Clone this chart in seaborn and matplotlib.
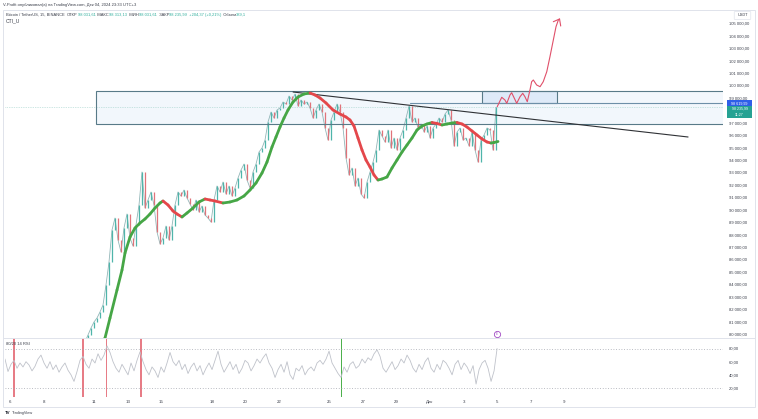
import numpy as np
import pandas as pd
import matplotlib
matplotlib.use("Agg")
import matplotlib.pyplot as plt
import matplotlib.transforms as mtransforms
from matplotlib.collections import LineCollection
from matplotlib.patches import Rectangle, FancyBboxPatch
from matplotlib.lines import Line2D
import seaborn as sns

sns.set_theme(style="white")
plt.rcParams['font.family'] = ['Liberation Sans', 'DejaVu Sans']

# ---------------- data (time in days since 6 Nov 2024 00:00, UTC+3) ----------------
price_t0 = 4.464
price_dt = 0.1786
price_close = [
    79356, 79920, 80483, 80965, 81287, 81770, 82333, 83942, 85792, 88367,
    89332, 87562, 86597, 88528, 89654, 87723, 87080, 88769, 90378, 93033,
    90137, 90780, 91424, 90378, 88206, 87241, 87723, 88689, 87562, 88689,
    90378, 91424, 91102, 91585, 90941, 90459, 89976, 90780, 89815, 90298,
    89574, 89332, 89010, 90780, 91907, 91424, 92228, 91263, 91907, 91102,
    91746, 92550, 93194, 93677, 92389, 91746, 93033, 93677, 94642, 94964,
    95607, 97055, 97860, 97377, 98021, 98182, 98664, 98504, 99147, 98825,
    99308, 98343, 98825, 98504, 98664, 98182, 97377, 98021, 98504, 97860,
    96573, 95607, 97216, 97860, 98504, 97860, 96573, 94159, 92792, 93355,
    91907, 92550, 91263, 90941, 92228, 93033, 93837, 94803, 96412, 95929,
    95446, 96412, 94964, 95768, 94803, 95768, 96412, 97377, 98343, 97055,
    97377, 96573, 96895, 96251, 96734, 95768, 96573, 96895, 97377, 97055,
    97699, 98021, 97216, 95125, 96251, 96573, 95607, 95768, 95125, 96251,
    94803, 93837, 95607, 96010, 96573, 96412, 94803, 98236,
]

cti_day = [
    5.357, 5.655, 5.952, 6.369, 6.667, 6.845, 7.143, 7.440, 7.738, 8.036,
    8.333, 8.631, 8.929, 9.107, 9.405, 9.702, 9.940, 10.238, 10.536, 10.893,
    11.250, 11.607, 11.905, 12.202, 12.679, 13.095, 13.512, 13.929, 14.286, 14.643,
    15.0, 15.298, 15.595, 15.833, 16.071, 16.310, 16.548, 16.845, 17.143, 17.5,
    17.857, 18.155, 18.452, 18.810, 19.226, 19.643, 20.0, 20.238, 20.476, 20.714,
    20.952, 21.190, 21.429, 21.667, 21.905, 22.143, 22.440, 22.738, 23.036, 23.333,
    23.631, 23.929, 24.226, 24.524, 24.821, 25.119, 25.417, 25.714, 26.012, 26.310,
    26.607, 26.905, 27.202, 27.5, 27.798, 28.095, 28.393, 28.631, 28.810, 29.048,
]
cti_value = [
    78552, 79678, 81287, 83540, 85149, 86516, 87804, 88528, 88930, 89252,
    89654, 90137, 90539, 90700, 90378, 89895, 89654, 89413, 89734, 90137,
    90619, 90861, 90780, 90700, 90539, 90619, 90780, 91102, 91585, 92148,
    92952, 93837, 95044, 95849, 96653, 97377, 98021, 98664, 99067, 99308,
    99388, 99228, 98986, 98584, 98021, 97699, 97458, 97216, 96734, 95768,
    94803, 93998, 93435, 92792, 92389, 92470, 92631, 93355, 93998, 94642,
    95205, 95768, 96412, 96734, 96895, 97015, 96935, 96815, 96895, 96975,
    97015, 96895, 96653, 96331, 96010, 95688, 95446, 95366, 95407, 95487,
]

rsi_t0 = -0.298
rsi_dt = 0.1786
rsi_value = [
    64, 45, 56, 62, 50, 58, 52, 60, 55, 46,
    53, 64, 70, 58, 50, 60, 48, 55, 44, 52,
    58, 47, 40, 30, 45, 62, 68, 56, 50, 64,
    58, 72, 62, 70, 84, 74, 60, 50, 44, 56,
    48, 40, 58, 46, 62, 75, 60, 48, 40, 52,
    46, 36, 52, 44, 58, 74, 60, 54, 62, 48,
    56, 42, 52, 58, 46, 54, 40, 50, 58, 48,
    62, 76, 56, 44, 52, 60, 48, 56, 42, 50,
    62, 58, 46, 54, 64, 58, 66, 72, 58, 50,
    36, 48, 56, 44, 60, 40, 33, 50, 46, 54,
    40, 48, 52, 46, 58, 62, 56, 64, 76, 58,
    50, 42, 36, 52, 44, 56, 60, 50, 54, 64,
    58, 66, 62, 72, 78, 68, 50, 44, 52, 60,
    48, 54, 64, 58, 70, 62, 50, 44, 56, 48,
    60, 66, 50, 44, 56, 48, 62, 58, 50, 40,
    56, 62, 48, 58, 52, 42, 54, 26, 48, 58,
    62, 50, 30, 46, 80,
]
rsi_red_days = [-0.30, 0.24, 4.35, 5.77, 7.80]
rsi_red_width = [0.06, 0.17, 0.08, 0.06, 0.15]
rsi_green_days = [19.76]

# drawings
zone_big = dict(d0=5.12, d1=44.0, lo=96895, hi=99549)
zone_small = dict(d0=28.10, d1=32.56, lo=98620, hi=99549)
ray_level = dict(d0=23.81, price=98620)
trend_days = [16.85, 40.36]
trend_price = [99469, 95849]
arrow_days = [29.0, 29.27, 29.46, 29.57, 29.76, 29.86, 30.02, 30.16, 30.36, 30.52,
              30.65, 30.79, 30.95, 31.05, 31.15, 31.35, 31.55, 31.74, 31.95, 32.14,
              32.34, 32.5, 32.64, 32.71]
arrow_price = [98286, 99043, 98825, 98560, 99228, 99412, 98962, 98560, 99091, 99364,
               99091, 98689, 99630, 100298, 100434, 100032, 99896, 100298, 101103, 102309,
               103652, 104723, 105262, 105342]
arrow_head_days = [32.34, 32.71, 32.78]
arrow_head_price = [105124, 105342, 104779]

last_price = 98235.99
level_price = 98619.99
price_ticks = list(range(80000, 105001, 1000))
hidden_ticks = [98000]          # covered by the last-price label in the reference
rsi_ticks = [80, 60, 40, 20]
date_tick_days = [0, 2, 5, 7, 9, 12, 14, 16, 19, 21, 23, 25, 27, 29, 31, 33]
date_tick_labels = ["6", "8", "11", "13", "15", "18", "20", "22", "25", "27", "29",
                    "Дек", "3", "5", "7", "9"]

# ---------------- figure ----------------
W, H = 758, 419
fig = plt.figure(figsize=(W / 100, H / 100), dpi=100)
fig.patch.set_facecolor("white")

def fx(px):
    return px / W

def fy(py):
    return 1 - py / H

ax = fig.add_axes([fx(5), fy(338), fx(718), 328 / H])
axr = fig.add_axes([fx(5), fy(397), fx(718), 59 / H], sharex=ax)

UP = "#4fb5aa"
DOWN = "#e0737a"
CTI_UP = "#46a646"
CTI_DN = "#e4474b"
TXT = "#3a3e4a"

def fmt_price(v):
    return f"{v:,.2f}".replace(",", " ").replace(".", ",")

# candles
closes = np.array(price_close, dtype=float)
opens = np.r_[closes[0], closes[:-1]]
times = price_t0 + price_dt * np.arange(len(closes))
df_price = pd.DataFrame({"t": times, "close": closes})
sns.lineplot(data=df_price, x="t", y="close", ax=ax, color="#86aeb0", lw=0.6,
             alpha=0.9, zorder=2)
cols = np.where(closes >= opens, UP, DOWN)
ax.vlines(times, np.minimum(opens, closes), np.maximum(opens, closes),
          colors=cols, lw=0.9, zorder=3)

# CTI line coloured by slope
cd = np.array(cti_day)
cv = np.array(cti_value, dtype=float)
pts = np.column_stack([cd, cv]).reshape(-1, 1, 2)
segs = np.concatenate([pts[:-1], pts[1:]], axis=1)
seg_cols = [CTI_UP if cv[i + 1] >= cv[i] else CTI_DN for i in range(len(cv) - 1)]
ax.add_collection(LineCollection(segs, colors=seg_cols, linewidths=2.0,
                                 capstyle="round", joinstyle="round", zorder=5))

# zones
for z, a in ((zone_big, 0.06), (zone_small, 0.10)):
    ax.add_patch(Rectangle((z["d0"], z["lo"]), z["d1"] - z["d0"], z["hi"] - z["lo"],
                           facecolor="#2e7fd6", alpha=a, edgecolor="none", zorder=1))
    ax.add_patch(Rectangle((z["d0"], z["lo"]), z["d1"] - z["d0"], z["hi"] - z["lo"],
                           facecolor="none", edgecolor="#587a88", lw=0.8, zorder=4))
ax.plot([ray_level["d0"], 44], [ray_level["price"]] * 2, color="#6d8fa8", lw=0.8, zorder=4)
ax.axhline(last_price, color="#9ccfc8", lw=0.5, ls=(0, (1, 1.5)), zorder=1)

# trend line
ax.plot(trend_days, trend_price, color="#2f3135", lw=0.8, zorder=4)

# hand-drawn arrow
ax.plot(arrow_days, arrow_price, color="#e0506a", lw=0.8, zorder=6,
        solid_capstyle="round", solid_joinstyle="round")
ax.plot(arrow_head_days, arrow_head_price, color="#e0506a", lw=0.8, zorder=6)

ax.set_xlim(-0.298, 42.44)
ax.set_ylim(79678, 106066)
ax.set_yticks(price_ticks)
ax.set_yticklabels(["" if v in hidden_ticks else fmt_price(v) for v in price_ticks])
ax.yaxis.tick_right()
ax.tick_params(axis="y", length=0, pad=4, labelsize=3.0, labelcolor=TXT)
ax.tick_params(axis="x", bottom=False, labelbottom=False)
ax.set_xlabel("")
ax.set_ylabel("")
for s in ax.spines.values():
    s.set_visible(False)

# ---------------- RSI pane ----------------
rsi_t = rsi_t0 + rsi_dt * np.arange(len(rsi_value))
for d, w in zip(rsi_red_days, rsi_red_width):
    axr.axvspan(d - w / 2, d + w / 2, color="#e0505e", alpha=0.75, lw=0, zorder=1)
for d in rsi_green_days:
    axr.axvspan(d - 0.03, d + 0.03, color="#3aa83a", alpha=0.9, lw=0, zorder=1)
df_rsi = pd.DataFrame({"t": rsi_t, "rsi": rsi_value})
sns.lineplot(data=df_rsi, x="t", y="rsi", ax=axr, color="#bfc2ca", lw=0.6, zorder=3)
for lvl in (80, 20):
    axr.axhline(lvl, color="#a3a6af", lw=0.6, ls=(0, (1, 2.2)), zorder=2)
axr.set_ylim(6.3, 96)
axr.set_yticks(rsi_ticks)
axr.set_yticklabels([f"{v:.2f}".replace(".", ",") for v in rsi_ticks])
axr.yaxis.tick_right()
axr.tick_params(axis="y", length=0, pad=4, labelsize=3.0, labelcolor=TXT)
axr.set_xticks(date_tick_days)
axr.set_xticklabels(date_tick_labels)
axr.tick_params(axis="x", length=0, pad=2.2, labelsize=3.2, labelcolor=TXT)
axr.set_xlabel("")
axr.set_ylabel("")
for s in axr.spines.values():
    s.set_visible(False)
axr.text(0.0015, 0.93, "80/20 14 RSI", transform=axr.transAxes, fontsize=3.0,
         color=TXT, va="top", ha="left")

# purple event marker
bt = mtransforms.blended_transform_factory(ax.transData, fig.transFigure)
ax.plot([28.98], [fy(334)], transform=bt, marker="o", ms=4.5, mfc="white",
        mec="#a24bc4", mew=0.6, clip_on=False, zorder=10)
ax.text(28.98, fy(334), "E", transform=bt, fontsize=2.2, color="#a24bc4",
        ha="center", va="center", clip_on=False, zorder=11)

# ---------------- frame lines ----------------
frame_col = "#e0e3eb"
fig.add_artist(Rectangle((fx(3), fy(407)), fx(752), 397 / H, transform=fig.transFigure,
                         facecolor="none", edgecolor=frame_col, lw=0.7))
fig.add_artist(Line2D([fx(3), fx(755)], [fy(338), fy(338)], transform=fig.transFigure,
                      color=frame_col, lw=0.7))

# price-scale labels
def label_box(py0, py1, color, lines, fs):
    fig.add_artist(Rectangle((fx(727), fy(py1)), fx(25), (py1 - py0) / H,
                             transform=fig.transFigure, facecolor=color,
                             edgecolor="none", zorder=20))
    n = len(lines)
    for k, t in enumerate(lines):
        yy = py0 + (py1 - py0) * (k + 0.5) / n
        fig.text(fx(739.5), fy(yy), t, fontsize=fs, color="white", ha="center",
                 va="center", zorder=21)

label_box(100.5, 106.0, "#2f5fe8", [fmt_price(level_price)], 2.7)
label_box(106.0, 118.0, "#26a293", [fmt_price(last_price), "11:27"], 2.6)

fig.add_artist(FancyBboxPatch((fx(735), fy(19)), fx(15), 7 / H, boxstyle="round,pad=0.001",
                              transform=fig.transFigure, facecolor="white",
                              edgecolor=frame_col, lw=0.5, zorder=20))
fig.text(fx(742.5), fy(15.5), "USDT", fontsize=2.8, color=TXT, ha="center", va="center",
         zorder=21)

# ---------------- header texts ----------------
renderer = fig.canvas.get_renderer()

def fit_text(x0, x1, py, segments, base=4.0):
    tmp = [fig.text(0, 0, s, fontsize=base) for s, _ in segments]
    total = sum(t.get_window_extent(renderer).width for t in tmp)
    for t in tmp:
        t.remove()
    fs = base * (x1 - x0) / total
    x = x0
    for s, c in segments:
        t = fig.text(fx(x), fy(py), s, fontsize=fs, color=c, ha="left", va="center")
        x += t.get_window_extent(renderer).width

fit_text(3, 137, 5, [("V-Profit опубликовал(а) на TradingView.com, Дек 04, 2024 23:33 UTC+3", TXT)])
VAL = "#2fae9c"
fit_text(6, 247, 14.7, [
    ("Bitcoin / TetherUS, 15, BINANCE  ", TXT), ("ОТКР", TXT), ("98 031,61", VAL),
    ("  МАКС", TXT), ("98 313,13", VAL), ("  МИН", TXT), ("98 031,61", VAL),
    ("  ЗАКР", TXT), ("98 235,99", VAL), ("  +204,37 (+0,21%)", VAL),
    ("  Объем", TXT), ("389,1", VAL)])
fit_text(6, 20, 20.7, [("CTI_U", TXT)])

fig.text(fx(5), fy(412.5), "TV", fontsize=3.2, color="#131722", fontweight="bold",
         ha="left", va="center")
fig.text(fx(12), fy(412.5), "TradingView", fontsize=2.8, color=TXT, ha="left", va="center")

fig.savefig("out.png", dpi=100, facecolor="white")
